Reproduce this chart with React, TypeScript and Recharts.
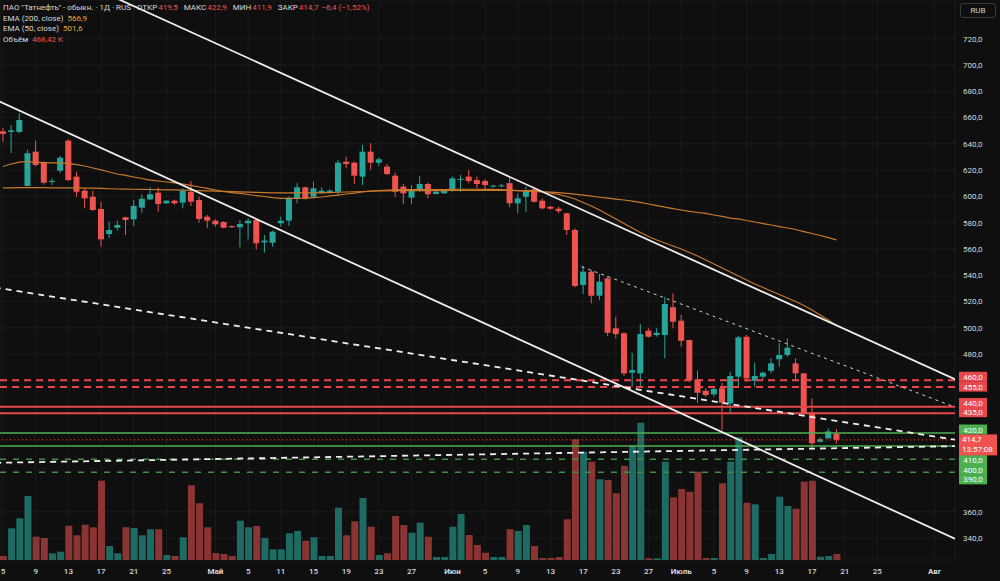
import { ComposedChart, Bar, Line, XAxis, YAxis, CartesianGrid, ReferenceLine, Cell } from 'recharts'

// daily candles, bar index 0 = 5 Apr, last bar = 20 Jul
const OPEN = [
  649.5, 649.0, 649.0, 607.9, 634.0, 625.6, 611.0, 619.5, 642.4, 615.0,
  604.3, 599.7, 590.4, 571.3, 576.1, 584.1, 582.5, 591.4, 597.7, 602.8,
  594.7, 596.7, 595.2, 603.5, 597.2, 584.5, 581.5, 580.5, 577.4, 576.5,
  579.5, 582.0, 565.0, 564.7, 579.5, 581.5, 598.2, 606.9, 599.7, 602.3,
  603.3, 603.5, 626.4, 625.6, 615.0, 634.0, 625.6, 622.6, 615.7, 607.4,
  599.0, 604.8, 609.4, 601.8, 602.3, 604.3, 613.0, 615.0, 612.4, 611.7,
  607.5, 607.8, 610.0, 594.7, 599.7, 605.4, 596.7, 592.1, 590.6, 587.1,
  574.4, 532.5, 542.7, 524.4, 537.6, 499.6, 495.8, 465.8, 465.3, 497.8,
  494.5, 494.5, 515.6, 505.4, 490.7, 460.8, 452.1, 449.4, 454.0, 442.5,
  462.8, 493.2, 459.7, 462.8, 467.3, 476.0, 479.3, 472.9, 465.3, 435.4,
  413.3, 415.9, 419.5,
]
const HIGH = [
  652.0, 654.3, 663.2, 635.3, 642.4, 626.5, 613.7, 630.7, 643.4, 618.8,
  606.1, 604.3, 595.9, 580.7, 581.5, 584.5, 597.2, 601.6, 606.9, 606.9,
  597.2, 597.5, 606.1, 611.7, 599.7, 585.8, 582.5, 581.0, 577.8, 582.0,
  583.3, 583.3, 570.6, 573.9, 584.5, 599.7, 610.0, 607.4, 611.2, 606.9,
  605.6, 627.7, 630.2, 626.4, 639.1, 640.4, 629.7, 624.6, 618.0, 609.4,
  608.6, 615.5, 610.4, 604.0, 605.6, 615.0, 616.2, 620.1, 615.0, 613.0,
  608.8, 609.4, 614.5, 602.3, 607.4, 607.4, 598.5, 592.6, 592.1, 587.6,
  575.7, 547.0, 544.0, 540.9, 539.4, 508.4, 496.5, 481.0, 502.9, 499.6,
  499.6, 523.6, 526.2, 509.7, 491.0, 467.3, 454.0, 455.1, 458.2, 466.6,
  493.7, 494.5, 473.4, 466.6, 476.8, 488.2, 492.0, 476.8, 465.6, 446.3,
  416.6, 423.5, 422.9,
]
const LOW = [
  641.5, 633.0, 648.0, 607.5, 622.6, 609.0, 608.6, 618.0, 611.7, 599.7,
  590.9, 589.0, 561.7, 568.1, 573.9, 570.6, 577.4, 587.6, 597.2, 588.3,
  594.2, 593.7, 590.9, 592.7, 580.0, 575.7, 576.9, 575.7, 576.0, 561.2,
  567.3, 559.7, 557.1, 561.7, 576.9, 577.4, 594.7, 597.5, 598.5, 601.8,
  602.2, 601.0, 621.4, 609.4, 608.6, 620.1, 623.1, 616.2, 599.7, 594.2,
  594.2, 603.5, 598.5, 601.5, 601.8, 603.5, 603.5, 610.0, 606.1, 605.4,
  606.6, 606.8, 591.7, 587.1, 588.3, 595.2, 590.2, 589.9, 587.1, 570.6,
  530.8, 525.7, 518.6, 521.1, 493.7, 492.0, 463.3, 455.1, 455.1, 492.7,
  493.2, 476.8, 499.6, 485.6, 458.9, 443.0, 447.5, 447.5, 422.2, 434.9,
  455.1, 458.9, 455.1, 460.2, 465.3, 470.4, 478.0, 460.2, 433.6, 407.5,
  412.8, 415.3, 411.9,
]
const CLOSE = [
  647.5, 650.2, 658.1, 632.8, 623.9, 610.4, 611.8, 629.4, 612.4, 603.5,
  598.5, 589.6, 567.3, 574.4, 578.2, 582.0, 592.7, 598.2, 601.6, 594.2,
  596.7, 594.7, 604.3, 595.9, 582.8, 581.5, 578.7, 576.1, 576.5, 579.0,
  581.5, 564.3, 566.3, 573.1, 581.5, 599.0, 606.9, 598.2, 606.1, 604.3,
  604.3, 625.6, 624.6, 615.7, 634.0, 625.6, 628.2, 617.0, 603.5, 602.3,
  605.4, 609.4, 601.6, 603.5, 604.8, 613.7, 613.3, 611.7, 609.4, 608.6,
  608.2, 608.4, 594.7, 598.5, 604.8, 595.9, 590.9, 590.6, 588.8, 574.4,
  531.8, 542.7, 524.4, 535.1, 496.2, 495.2, 465.3, 467.8, 495.2, 493.2,
  496.2, 518.1, 504.6, 490.1, 460.2, 450.6, 448.8, 453.4, 443.0, 463.3,
  492.7, 461.5, 463.3, 465.8, 472.9, 479.3, 484.8, 465.3, 434.9, 412.1,
  415.1, 421.1, 414.7,
]
// thousand shares
const VOLUME = [
  312, 2475, 3256, 4996, 1819, 1718, 520, 648, 2678, 1928,
  2756, 2553, 6191, 1093, 523, 2553, 2498, 1928, 2397, 2397,
  390, 312, 1772, 5832, 4427, 2553, 546, 468, 312, 3068,
  2553, 2654, 1718, 835, 835, 2084, 2264, 1507, 1772, 312,
  312, 4083, 1928, 3021, 4840, 2600, 390, 523, 3435, 2732,
  2131, 2912, 1819, 234, 234, 2600, 3591, 1952, 1171, 570,
  234, 234, 2397, 2264, 2732, 1093, 156, 156, 234, 3177,
  9423, 8455, 7674, 6300, 6246, 5207, 7339, 8978, 10719, 133,
  133, 7674, 4895, 5543, 5332, 6894, 156, 156, 5988, 7674,
  9579, 4473, 4349, 156, 468, 4942, 4216, 4005, 6113, 6191,
  258, 312, 468.42,
]
const EMA200 = [
  606.4, 606.5, 606.6, 606.6, 606.6, 606.6, 606.5, 606.5, 606.5, 606.4,
  606.3, 606.2, 606.0, 605.8, 605.6, 605.5, 605.4, 605.3, 605.2, 605.1,
  605.0, 604.9, 604.8, 604.6, 604.4, 604.2, 604.0, 603.8, 603.6, 603.4,
  603.2, 603.0, 602.8, 602.7, 602.6, 602.6, 602.6, 602.6, 602.7, 602.8,
  602.9, 603.1, 603.3, 603.5, 603.7, 603.9, 604.1, 604.2, 604.3, 604.3,
  604.3, 604.4, 604.4, 604.4, 604.4, 604.5, 604.5, 604.5, 604.5, 604.5,
  604.5, 604.5, 604.5, 604.4, 604.4, 604.3, 603.6, 603.2, 602.8, 602.3,
  601.7, 600.9, 600.1, 599.3, 598.6, 597.9, 597.2, 596.3, 595.4, 594.2,
  593.0, 591.8, 590.6, 589.6, 588.5, 587.7, 587.0, 585.8, 584.7, 583.5,
  582.8, 581.6, 580.5, 579.3, 578.2, 577.0, 575.9, 574.8, 573.2, 571.7,
  570.2, 568.6, 566.9,
]
const EMA50 = [
  622.7, 624.6, 626.1, 626.5, 626.1, 625.7, 625.4, 625.4, 625.1, 624.2,
  623.1, 621.6, 620.1, 618.5, 617.0, 615.9, 614.7, 613.6, 612.4, 611.7,
  610.9, 610.2, 609.4, 608.3, 607.1, 606.0, 604.8, 603.7, 602.9, 602.2,
  601.4, 600.6, 599.9, 599.1, 598.5, 598.4, 598.5, 598.7, 599.1, 599.5,
  600.3, 601.0, 601.8, 602.5, 603.3, 604.0, 604.4, 604.8, 605.0, 605.1,
  605.1, 605.2, 605.2, 605.2, 605.2, 605.3, 605.4, 605.4, 605.4, 605.3,
  605.3, 605.2, 604.8, 604.4, 604.0, 603.7, 603.3, 602.5, 601.4, 599.9,
  598.0, 595.3, 592.7, 589.6, 586.2, 582.8, 579.3, 575.9, 572.5, 569.4,
  566.8, 564.5, 562.2, 559.9, 557.3, 554.6, 551.6, 548.5, 545.5, 542.4,
  539.4, 536.3, 533.3, 530.6, 528.0, 525.3, 522.6, 520.0, 516.9, 513.5,
  509.7, 505.9, 501.6,
]

const X_TICKS = [0, 4, 8, 12, 16, 20, 26, 30, 34, 38, 42, 46, 50, 55, 59, 63, 67, 71, 75, 79, 83, 87, 91, 95, 99, 103, 107, 114]
const X_LABELS = ['5', '9', '13', '17', '21', '25', 'Май', '5', '11', '15', '19', '23', '27', 'Июн', '5', '9', '13', '17', '23', '27', 'Июль', '5', '9', '13', '17', '21', '25', 'Авг']
const MONTHS = ['Май', 'Июн', 'Июль', 'Авг']
// 380..460 sit under the level tags
const PRICE_TICKS = [340, 360, 480, 500, 520, 540, 560, 580, 600, 620, 640, 660, 680, 700, 720]

// horizontal levels
const RED_DASHED = [460, 455]
const RED_SOLID = [440, 435]
const GREEN_SOLID = [420, 410]
const GREEN_DASHED = [400, 390]

// trend lines, [bar index, price]
const CHANNEL_TOP = [{ x: 10, y: 761.7 }, { x: 120, y: 451.0 }]
const CHANNEL_BOTTOM = [{ x: -5, y: 685.2 }, { x: 120, y: 329.5 }]
const CHANNEL_MID = [{ x: -5, y: 534.6 }, { x: 120, y: 411.4 }]
const UPPER_DOTTED = [{ x: 70.8, y: 546.5 }, { x: 120, y: 431.5 }]
const LOWER_DASHED = [{ x: -5, y: 396.8 }, { x: 120, y: 410.3 }]

const UP = '#26a69a'
const DOWN = '#ef5350'
const VOL_UP = '#1d6b63'
const VOL_DOWN = '#8a3534'
const LVL_RED = '#e8474c'
const LVL_GREEN = '#4caf50'
const EMA_COLOR = '#c8792b'
const TEXT = '#d8d8d8'
const FONT = 'Roboto, "Noto Sans", sans-serif'

const fmt = (v: number) => v.toFixed(1).replace('.', ',')

const rows = OPEN.map((o, i) => ({
  i,
  o,
  h: HIGH[i],
  l: LOW[i],
  c: CLOSE[i],
  hl: [LOW[i], HIGH[i]],
  vol: VOLUME[i],
  ema200: EMA200[i],
  ema50: EMA50[i],
}))

const last = rows.length - 1
const LAST = CLOSE[last]
const CHG = CLOSE[last] - CLOSE[last - 1]
const CHG_PCT = (CHG / CLOSE[last - 1]) * 100

function Candle(props: any) {
  const { x, y, width, height, payload } = props
  if (!payload || x == null) return null
  const { o, h, l, c } = payload
  const color = c >= o ? UP : DOWN
  const top = Math.min(y, y + height)
  const span = Math.abs(height)
  const k = h > l ? span / (h - l) : 0
  const bodyTop = top + (h - Math.max(o, c)) * k
  const bodyH = Math.max(1, Math.abs(o - c) * k)
  const cx = x + width / 2
  return (
    <g>
      <line x1={cx} x2={cx} y1={top} y2={top + span} stroke={color} strokeWidth={1} />
      <rect x={x} y={bodyTop} width={width} height={bodyH} fill={color} />
    </g>
  )
}

function PriceTick(props: any) {
  const { x, y, payload } = props
  return (
    <text x={x} y={y} dy={3} fontSize={8} fill={TEXT} fontFamily={FONT}>
      {fmt(payload.value)}
    </text>
  )
}

function DateTick(props: any) {
  const { x, y, payload } = props
  const label = X_LABELS[X_TICKS.indexOf(payload.value)]
  return (
    <text x={x} y={y} dy={14} textAnchor="middle" fontSize={8} fontWeight={MONTHS.includes(label) ? 700 : 500} fill={TEXT} fontFamily={FONT}>
      {label}
    </text>
  )
}

// price tag on the right axis; shift moves the tag off its line when tags would overlap
const tag = (price: number, bg: string, shift: number) => (props: any) => {
  const vb = props.viewBox ?? props
  const left = vb.x + vb.width + 4
  const cy = vb.y + shift
  return (
    <g>
      <rect x={left} y={cy - 5} width={28} height={10} fill={bg} />
      <text x={left + 14} y={cy + 3} textAnchor="middle" fontSize={8} fill="#ffffff" fontFamily={FONT}>
        {fmt(price)}
      </text>
    </g>
  )
}

const lastTag = (props: any) => {
  const vb = props.viewBox ?? props
  const left = vb.x + vb.width + 4
  const top = vb.y - 5.5
  return (
    <g>
      <rect x={left} y={top} width={38} height={21} fill="#ef5350" />
      <text x={left + 3} y={top + 8} fontSize={8} fill="#ffffff" fontFamily={FONT}>{fmt(LAST)}</text>
      <text x={left + 3} y={top + 18} fontSize={8} fill="#ffffff" fontFamily={FONT}>13:57:08</text>
    </g>
  )
}

const SHIFT: Record<number, number> = { 460: -3.6, 455: -0.3, 440: -3.6, 435: -1, 420: -3.4, 410: 14, 400: 10.7, 390: 7 }

export default function App() {
  const valueStyle = (color: string) => ({ color, marginLeft: 1 })
  return (
    <div style={{ position: 'relative', width: 1000, height: 581, background: '#0f0f0f', overflow: 'hidden' }}>
      <style>{`body{margin:0;background:#0f0f0f}`}</style>
      <ComposedChart width={1000} height={581} data={rows} margin={{ top: 0, right: 0, bottom: 0, left: 0 }}>
        <CartesianGrid xAxisId="x" yAxisId="p" stroke="#1a1a1a" strokeWidth={1} />
        <XAxis
          xAxisId="x"
          dataKey="i"
          type="number"
          domain={[-0.37, 116.5]}
          allowDataOverflow
          ticks={X_TICKS}
          interval={0}
          height={21}
          tick={<DateTick />}
          tickLine={false}
          axisLine={false}
          tickSize={0}
          tickMargin={0}
        />
        <XAxis xAxisId="xv" dataKey="i" type="number" domain={[-0.37, 116.5]} allowDataOverflow hide />
        <YAxis
          yAxisId="p"
          orientation="right"
          width={45}
          type="number"
          domain={[323.3, 749.4]}
          allowDataOverflow
          ticks={PRICE_TICKS}
          interval={0}
          tick={<PriceTick />}
          tickLine={false}
          axisLine={false}
          tickSize={0}
          tickMargin={8}
        />
        <YAxis yAxisId="v" type="number" domain={[0, 43720]} allowDataOverflow hide />

        <Bar xAxisId="xv" yAxisId="v" dataKey="vol" barSize={7} isAnimationActive={false}>
          {rows.map((r, idx) => (
            <Cell key={`v-${idx}`} fill={r.c >= r.o ? VOL_UP : VOL_DOWN} />
          ))}
        </Bar>

        <Line xAxisId="x" yAxisId="p" dataKey="ema200" stroke={EMA_COLOR} strokeWidth={1.2} dot={false} activeDot={false} isAnimationActive={false} />
        <Line xAxisId="x" yAxisId="p" dataKey="ema50" stroke={EMA_COLOR} strokeWidth={1.2} dot={false} activeDot={false} isAnimationActive={false} />

        <Bar xAxisId="x" yAxisId="p" dataKey="hl" barSize={6} shape={<Candle />} isAnimationActive={false} />

        {RED_DASHED.map((v) => (
          <ReferenceLine key={`rd-${v}`} xAxisId="x" yAxisId="p" y={v} stroke={LVL_RED} strokeWidth={2} strokeDasharray="7 5" label={tag(v, '#e8474c', SHIFT[v])} />
        ))}
        {RED_SOLID.map((v) => (
          <ReferenceLine key={`rs-${v}`} xAxisId="x" yAxisId="p" y={v} stroke={LVL_RED} strokeWidth={2} label={tag(v, '#e8474c', SHIFT[v])} />
        ))}
        {GREEN_SOLID.map((v) => (
          <ReferenceLine key={`gs-${v}`} xAxisId="x" yAxisId="p" y={v} stroke={LVL_GREEN} strokeWidth={1.5} label={tag(v, '#4caf50', SHIFT[v])} />
        ))}
        {GREEN_DASHED.map((v) => (
          <ReferenceLine key={`gd-${v}`} xAxisId="x" yAxisId="p" y={v} stroke="#3f8f43" strokeWidth={1.5} strokeDasharray="6 7" label={tag(v, '#4caf50', SHIFT[v])} />
        ))}
        <ReferenceLine xAxisId="x" yAxisId="p" y={LAST} stroke={DOWN} strokeWidth={1} strokeDasharray="1 3" label={lastTag} />

        <ReferenceLine xAxisId="x" yAxisId="p" segment={CHANNEL_TOP} ifOverflow="hidden" stroke="#eeeeee" strokeWidth={1.8} />
        <ReferenceLine xAxisId="x" yAxisId="p" segment={CHANNEL_BOTTOM} ifOverflow="hidden" stroke="#eeeeee" strokeWidth={1.8} />
        <ReferenceLine xAxisId="x" yAxisId="p" segment={CHANNEL_MID} ifOverflow="hidden" stroke="#eeeeee" strokeWidth={1.8} strokeDasharray="6 5" />
        <ReferenceLine xAxisId="x" yAxisId="p" segment={LOWER_DASHED} ifOverflow="hidden" stroke="#eeeeee" strokeWidth={1.8} strokeDasharray="6 5" />
        <ReferenceLine xAxisId="x" yAxisId="p" segment={UPPER_DOTTED} ifOverflow="hidden" stroke="#cfcfcf" strokeWidth={1} strokeDasharray="3 4" />
      </ComposedChart>

      <div style={{ position: 'absolute', left: 3, top: 3, fontFamily: FONT, fontSize: 8, lineHeight: '10.7px', color: TEXT, whiteSpace: 'nowrap' }}>
        <div>
          ПАО "Татнефть" - обыкн. · 1Д · RUS&nbsp;&nbsp;
          ОТКР<span style={valueStyle(DOWN)}>{fmt(OPEN[last])}</span>&nbsp;&nbsp;
          МАКС<span style={valueStyle(DOWN)}>{fmt(HIGH[last])}</span>&nbsp;&nbsp;
          МИН<span style={valueStyle(DOWN)}>{fmt(LOW[last])}</span>&nbsp;&nbsp;
          ЗАКР<span style={valueStyle(DOWN)}>{fmt(LAST)}</span>&nbsp;
          <span style={valueStyle(DOWN)}>
            {`${CHG < 0 ? '−' : '+'}${fmt(Math.abs(CHG))} (${CHG < 0 ? '−' : '+'}${Math.abs(CHG_PCT).toFixed(2).replace('.', ',')}%)`}
          </span>
        </div>
        <div>
          EMA (200, close)&nbsp;&nbsp;<span style={{ color: '#e8a33d' }}>{fmt(EMA200[last])}</span>
        </div>
        <div>
          EMA (50, close)&nbsp;&nbsp;<span style={{ color: '#e8a33d' }}>{fmt(EMA50[last])}</span>
        </div>
        <div>
          Объём&nbsp;&nbsp;<span style={{ color: DOWN }}>{VOLUME[last].toFixed(2).replace('.', ',')} K</span>
        </div>
      </div>

      <div
        style={{
          position: 'absolute',
          left: 960,
          top: 3,
          width: 36,
          height: 15,
          boxSizing: 'border-box',
          border: '1px solid #3a3a3a',
          borderRadius: 3,
          fontFamily: FONT,
          fontSize: 8,
          lineHeight: '13px',
          color: '#cfcfcf',
          textAlign: 'center',
        }}
      >
        RUB
      </div>
    </div>
  )
}
